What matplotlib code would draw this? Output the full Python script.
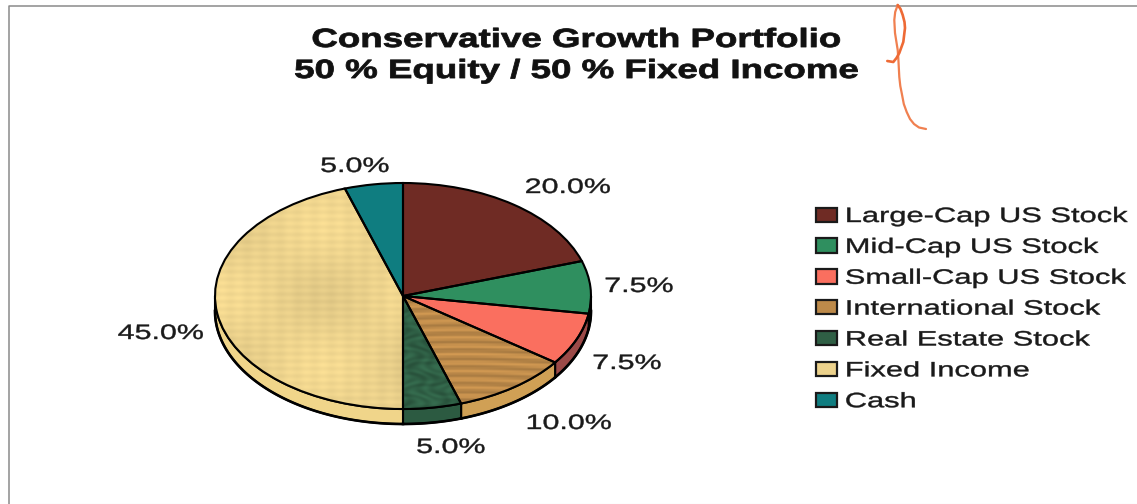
import numpy as np
import matplotlib
matplotlib.use("Agg")
import matplotlib.pyplot as plt
from matplotlib.patches import Patch
from matplotlib.patheffects import AbstractPathEffect
from matplotlib.transforms import Affine2D

# --- Portfolio data ---
CATEGORIES = ["Large-Cap US Stock", "Mid-Cap US Stock", "Small-Cap US Stock",
              "International Stock", "Real Estate Stock", "Fixed Income", "Cash"]
SHARES = [20.0, 7.5, 7.5, 10.0, 5.0, 45.0, 5.0]
COLORS = ["#6f2b24", "#2f8f5f", "#fa6f5f", "#bd8a4a", "#2f5f45", "#ecd28c", "#0f7d80"]
SIDE_COLORS = ["#5a221c", "#26734c", "#9c4a48", "#d0a055", "#2c5a41", "#f0d58a", "#0c6668"]
TITLE_LINES = ["Conservative Growth Portfolio", "50 % Equity / 50 % Fixed Income"]

W, H = 1137, 504
DEPTH = 15 / 113  # pie thickness in units of the vertical radius
FONT = "Liberation Sans"


class StretchX(AbstractPathEffect):
    """Widen text horizontally around a fixed x position (in pixels), with a thin stroke."""

    def __init__(self, anchor, factor, stroke=0.3):
        super().__init__()
        self.anchor = anchor
        self.factor = factor
        self.stroke = stroke

    def draw_path(self, renderer, gc, tpath, affine, rgbFace=None):
        wide = affine + Affine2D().translate(-self.anchor, 0).scale(self.factor, 1).translate(self.anchor, 0)
        gc0 = renderer.new_gc()
        gc0.copy_properties(gc)
        gc0.set_linewidth(self.stroke)
        gc0.set_foreground(rgbFace)
        renderer.draw_path(gc0, tpath, wide, rgbFace)
        gc0.restore()


def px_box(x0, y0, x1, y1):
    """Figure-fraction rectangle from pixel corners (origin top left)."""
    return [x0 / W, 1 - y1 / H, (x1 - x0) / W, (y1 - y0) / H]


def texture(kind, color):
    """Shaded RGB tile that gives a wedge its paper, wood or marble look."""
    xx, yy = np.meshgrid(np.linspace(-1, 1, 380), np.linspace(-1, 1, 230))
    if kind == "paper":
        shade = (0.012 * np.sin(xx * 70) + 0.018 * np.sin(yy * 95)
                 + 0.04 * np.sin(xx * 6 + 1.0) * np.cos(yy * 5))
    elif kind == "wood":
        shade = 0.09 * np.sin(yy * 85 + 1.5 * np.sin(xx * 5)) + 0.03 * np.sin(yy * 210)
    else:  # marble
        shade = 0.14 * np.sin(xx * 45 + 3 * np.cos(yy * 30)) * np.cos(yy * 38 + 2 * np.sin(xx * 25))
    rgb = np.array(matplotlib.colors.to_rgb(color))
    return np.clip(rgb[None, None, :] * (1 + shade[..., None]), 0, 1)


fig = plt.figure(figsize=(W / 100, H / 100), dpi=100, facecolor="white")

# Page frame and the pen mark across its top edge
bg = fig.add_axes([0, 0, 1, 1])
bg.set_xlim(0, W)
bg.set_ylim(H, 0)
bg.axis("off")
bg.plot([8.5, 8.5, W], [H, 6, 6], color="#8a8a8a", lw=1.1)
bg.plot([30, W], [503.5, 503.5], color="#ececec", lw=0.8)
pen_x = [897.7, 895.2, 894.3, 895, 897.7, 898.3, 899.3, 900.3, 901.7, 903.8, 906.7, 910, 914, 919, 926]
pen_y = [5, 12, 20, 33, 50, 58, 77, 86, 93, 104, 112, 119, 124, 127.5, 129]
bg.plot(pen_x, pen_y, color="#f08050", lw=1.6, solid_capstyle="round", solid_joinstyle="round")
loop_x = [897.7, 900.5, 902.7, 904.5, 905, 903.3, 899.3, 896.5, 893.3, 887.3]
loop_y = [5, 9, 15, 22, 28, 42, 53, 58, 62, 61]
bg.plot(loop_x, loop_y, color="#ee6a35", lw=1.9, solid_capstyle="round", solid_joinstyle="round")

# Tilted pie: the axes box is wider than tall, so the circle becomes an ellipse
ax = fig.add_axes(px_box(215, 183, 591, 409))
wedges, _ = ax.pie(SHARES, colors=COLORS, startangle=90, counterclock=False,
                   wedgeprops={"linewidth": 0})

# Rim along the front half of the pie
edges = np.cumsum([0] + SHARES) * 3.6
for a, b, side in zip(edges[:-1], edges[1:], SIDE_COLORS):
    lo, hi = max(a, 90), min(b, 270)
    if lo >= hi:
        continue
    t = np.radians(np.linspace(lo, hi, 80))
    rim_x = np.r_[np.sin(t), np.sin(t)[::-1]]
    rim_y = np.r_[np.cos(t), np.cos(t)[::-1] - DEPTH]
    ax.fill(rim_x, rim_y, facecolor=side, edgecolor="black", lw=1.5, clip_on=False,
            joinstyle="round", zorder=1)
    ax.plot(np.sin(t), np.cos(t) - DEPTH, color="black", lw=1.9, clip_on=False, zorder=1.5)

# Surface finish on three of the slices
for idx, kind in [(5, "paper"), (3, "wood"), (4, "marble")]:
    im = ax.imshow(texture(kind, COLORS[idx]), extent=(-1, 1, -1, 1), aspect="auto", zorder=2)
    im.set_clip_path(wedges[idx])

# Slice outlines go on last
ax.pie(SHARES, colors=["none"] * len(SHARES), startangle=90, counterclock=False,
       wedgeprops={"linewidth": 1.5, "edgecolor": "black", "zorder": 3})
ax.set_aspect("auto")
ax.set_xlim(-1, 1)
ax.set_ylim(-1, 1)
ax.axis("off")

# Percentage labels, centred on their own x
label_xy = [(568, 193), (639, 292), (627, 369), (569, 429), (451, 453), (161, 339), (355, 172)]
for share, (lx, ly) in zip(SHARES, label_xy):
    bg.text(lx, ly, f"{share:.1f}%", ha="center", va="baseline", fontsize=15,
            family=FONT, color="#1a1a1a", path_effects=[StretchX(lx, 1.46)])

# Title
for line, ty in zip(TITLE_LINES, [47, 78]):
    bg.text(576.5, ty, line, ha="center", va="baseline", fontsize=19, fontweight="bold",
            family=FONT, color="#111111", path_effects=[StretchX(576.5, 1.39, 0.6)])

# Legend, with its labels widened from their left edge
handles = [Patch(facecolor=c, edgecolor="#1a1a1a", linewidth=1.6) for c in COLORS]
legend = fig.legend(handles, CATEGORIES, loc="upper left", bbox_to_anchor=(816 / W, 1 - 207 / H),
                    frameon=False, borderaxespad=0, borderpad=0, handlelength=1.0, handleheight=0.67,
                    handletextpad=0.4, labelspacing=0.57, prop={"family": FONT, "size": 15},
                    labelcolor="#1a1a1a")
for label in legend.get_texts():
    label.set_path_effects([StretchX(846, 1.48)])

fig.savefig("out.png", dpi=100)
